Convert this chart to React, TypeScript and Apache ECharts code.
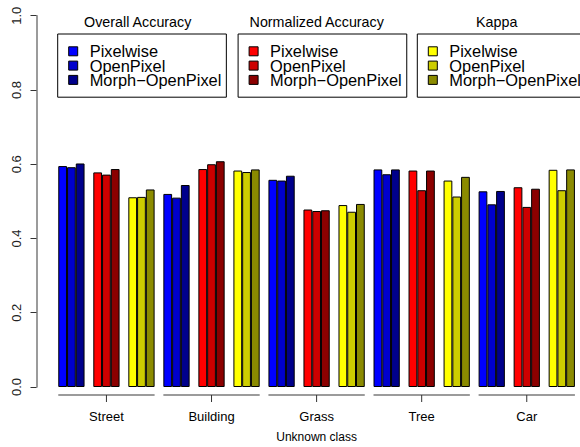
import React, { useEffect, useRef } from "react";
import * as echarts from "echarts";

// Land-cover classes on the x axis
const classes = ["Street", "Building", "Grass", "Tree", "Car"];
// Quality measures (one legend box and one colour family each)
const metrics = ["Overall Accuracy", "Normalized Accuracy", "Kappa"];
// Methods compared inside each measure
const methods = ["Pixelwise", "OpenPixel", "Morph\u2212OpenPixel"];

// Scores per class (same order as `classes`)
const overallPixelwise = [0.595, 0.52, 0.558, 0.586, 0.527];
const overallOpenPixel = [0.592, 0.51, 0.556, 0.573, 0.492];
const overallMorph = [0.602, 0.544, 0.569, 0.586, 0.528];

const normalizedPixelwise = [0.578, 0.587, 0.478, 0.583, 0.538];
const normalizedOpenPixel = [0.572, 0.6, 0.474, 0.53, 0.485];
const normalizedMorph = [0.587, 0.608, 0.476, 0.583, 0.534];

const kappaPixelwise = [0.511, 0.583, 0.49, 0.556, 0.585];
const kappaOpenPixel = [0.512, 0.579, 0.472, 0.513, 0.53];
const kappaMorph = [0.532, 0.586, 0.493, 0.566, 0.586];

const yTicks = [0, 0.2, 0.4, 0.6, 0.8, 1.0];

const scores = [
  [overallPixelwise, overallOpenPixel, overallMorph],
  [normalizedPixelwise, normalizedOpenPixel, normalizedMorph],
  [kappaPixelwise, kappaOpenPixel, kappaMorph],
];

const palettes = [
  ["#0000FF", "#0000CD", "#00008B"],
  ["#FF0000", "#CD0000", "#8B0000"],
  ["#FFFF00", "#CDCD00", "#8B8B00"],
];

const FONT = "'Liberation Sans', Arial, Helvetica, sans-serif";

// Layout of the legend boxes and their headings
const legendLeft = [57.7, 238.1, 417.3];
const legendTitleX = [137.7, 316.7, 496.7];

const seriesName = (metric: string, method: string) => `${metric}: ${method}`;

export default function App() {
  const ref = useRef<HTMLDivElement>(null);

  useEffect(() => {
    if (!ref.current) return;
    const chart = echarts.init(ref.current, undefined, { renderer: "svg" });

    // one slot per (class, measure); bars of a measure share the slot
    const slots = classes.flatMap((c) => metrics.map((m) => `${c} / ${m}`));

    const barSeries: any[] = [];
    metrics.forEach((metric, m) => {
      methods.forEach((method, k) => {
        const data: (number | string)[] = slots.map(() => "-");
        classes.forEach((_, c) => {
          data[c * metrics.length + m] = scores[m][k][c];
        });
        barSeries.push({
          type: "bar",
          name: seriesName(metric, method),
          stack: method,
          xAxisIndex: 0,
          yAxisIndex: 0,
          barGap: 0,
          barCategoryGap: "25%",
          data,
          itemStyle: {
            color: palettes[m][k],
            borderColor: "#000",
            borderWidth: 1,
          },
        });
      });
    });

    // per-class axis segment with a centred tick below each group of bars
    const groupAxis = {
      type: "custom",
      xAxisIndex: 0,
      yAxisIndex: 0,
      silent: true,
      clip: false,
      data: classes.map((_, i) => [i, 0]),
      renderItem: (_params: any, api: any) => {
        const g = api.value(0);
        const first = api.coord([g * 3, 0]);
        const mid = api.coord([g * 3 + 1, 0]);
        const last = api.coord([g * 3 + 2, 0]);
        const half = (api.size([1, 0])[0] * 0.75) / 2;
        const y = first[1] + 8;
        return {
          type: "group",
          children: [
            {
              type: "line",
              shape: { x1: first[0] - half, y1: y, x2: last[0] + half, y2: y },
              style: { stroke: "#7a7a7a", lineWidth: 1.5 },
            },
            {
              type: "line",
              shape: { x1: mid[0], y1: y, x2: mid[0], y2: y + 7 },
              style: { stroke: "#333", lineWidth: 1 },
            },
          ],
        };
      },
    };

    const legends = metrics.map((metric, m) => ({
      orient: "vertical",
      left: legendLeft[m],
      top: 34,
      padding: [9.3, 5, 9.3, 10.5],
      itemGap: -1.7,
      itemWidth: 9,
      itemHeight: 9,
      icon: "rect",
      selectedMode: false,
      borderColor: "#000",
      borderWidth: 1,
      borderRadius: 0,
      data: methods.map((k) => seriesName(metric, k)),
      formatter: (name: string) => name.split(": ")[1],
      itemStyle: { borderColor: "#000", borderWidth: 1 },
      textStyle: {
        fontFamily: FONT,
        fontSize: 16.4,
        lineHeight: 14.3,
        color: "#000",
        padding: [0, 0, 0, 7],
      },
    }));

    chart.setOption({
      animation: false,
      backgroundColor: "#fff",
      grid: {
        left: 53.9,
        right: 0.7,
        top: 15.7,
        bottom: 60,
        containLabel: false,
        outerBoundsMode: "none",
      },
      legend: legends,
      graphic: metrics.map((metric, m) => ({
        type: "text",
        x: legendTitleX[m],
        y: 22,
        silent: true,
        style: {
          text: metric,
          fontFamily: FONT,
          fontSize: 14.3,
          fill: "#000",
          textAlign: "center",
          textVerticalAlign: "middle",
        },
      })),
      xAxis: [
        {
          type: "category",
          data: slots,
          axisLine: { show: false },
          axisTick: { show: false },
          axisLabel: { show: false },
          splitLine: { show: false },
        },
        {
          type: "category",
          data: classes,
          position: "bottom",
          axisLine: { show: false },
          axisTick: { show: false },
          splitLine: { show: false },
          axisLabel: {
            margin: 22.5,
            fontFamily: FONT,
            fontSize: 13,
            color: "#000",
          },
          name: "Unknown class",
          nameLocation: "middle",
          nameGap: 44,
          nameTextStyle: { fontFamily: FONT, fontSize: 12, color: "#000" },
        },
      ],
      yAxis: {
        type: "value",
        min: yTicks[0],
        max: yTicks[yTicks.length - 1],
        interval: 0.2,
        offset: 17.4,
        axisLine: { show: true, lineStyle: { color: "#7a7a7a", width: 1.5 } },
        axisTick: { show: true, length: 6, lineStyle: { color: "#333", width: 1 } },
        splitLine: { show: false },
        axisLabel: {
          rotate: 90,
          margin: 14,
          fontFamily: FONT,
          fontSize: 13,
          color: "#222",
          formatter: (v: number) => v.toFixed(1),
        },
      },
      series: [...barSeries, groupAxis],
    });

    return () => chart.dispose();
  }, []);

  return (
    <div
      ref={ref}
      style={{ position: "absolute", left: 0, top: 0, width: 580, height: 447, background: "#fff" }}
    />
  );
}
